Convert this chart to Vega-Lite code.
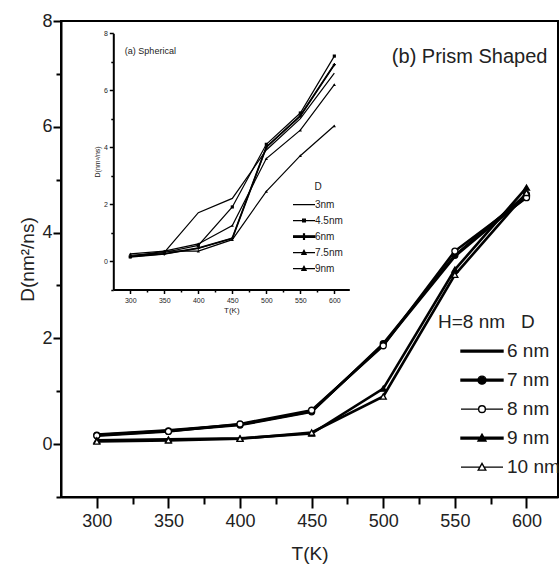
{
  "$schema": "https://vega.github.io/schema/vega-lite/v6.json",
  "autosize": "none",
  "width": 497,
  "height": 476,
  "padding": {"left": 61, "top": 21, "right": 2, "bottom": 71},
  "background": "white",
  "config": {
    "view": {"stroke": "black", "strokeWidth": 2},
    "font": "Liberation Sans, Arial, sans-serif",
    "axis": {"grid": false, "domainColor": "black", "tickColor": "black", "labelColor": "#222", "titleColor": "#222", "titleFontWeight": "normal"}
  },
  "datasets": {
    "main": [
      {"T": 300, "D": 0.18, "size": "6 nm"}, {"T": 350, "D": 0.26, "size": "6 nm"}, {"T": 400, "D": 0.37, "size": "6 nm"}, {"T": 450, "D": 0.62, "size": "6 nm"}, {"T": 500, "D": 1.88, "size": "6 nm"}, {"T": 550, "D": 3.55, "size": "6 nm"}, {"T": 600, "D": 4.68, "size": "6 nm"},
      {"T": 300, "D": 0.17, "size": "7 nm"}, {"T": 350, "D": 0.25, "size": "7 nm"}, {"T": 400, "D": 0.36, "size": "7 nm"}, {"T": 450, "D": 0.61, "size": "7 nm"}, {"T": 500, "D": 1.9, "size": "7 nm"}, {"T": 550, "D": 3.57, "size": "7 nm"}, {"T": 600, "D": 4.72, "size": "7 nm"},
      {"T": 300, "D": 0.16, "size": "8 nm"}, {"T": 350, "D": 0.24, "size": "8 nm"}, {"T": 400, "D": 0.38, "size": "8 nm"}, {"T": 450, "D": 0.64, "size": "8 nm"}, {"T": 500, "D": 1.86, "size": "8 nm"}, {"T": 550, "D": 3.65, "size": "8 nm"}, {"T": 600, "D": 4.66, "size": "8 nm"},
      {"T": 300, "D": 0.07, "size": "9 nm"}, {"T": 350, "D": 0.09, "size": "9 nm"}, {"T": 400, "D": 0.11, "size": "9 nm"}, {"T": 450, "D": 0.2, "size": "9 nm"}, {"T": 500, "D": 1.05, "size": "9 nm"}, {"T": 550, "D": 3.3, "size": "9 nm"}, {"T": 600, "D": 4.85, "size": "9 nm"},
      {"T": 300, "D": 0.05, "size": "10 nm"}, {"T": 350, "D": 0.07, "size": "10 nm"}, {"T": 400, "D": 0.1, "size": "10 nm"}, {"T": 450, "D": 0.22, "size": "10 nm"}, {"T": 500, "D": 0.9, "size": "10 nm"}, {"T": 550, "D": 3.2, "size": "10 nm"}, {"T": 600, "D": 4.75, "size": "10 nm"}
    ],
    "inset": [
      {"T": 300, "D": 0.2, "size": "3nm"}, {"T": 350, "D": 0.3, "size": "3nm"}, {"T": 400, "D": 1.7, "size": "3nm"}, {"T": 450, "D": 2.2, "size": "3nm"}, {"T": 500, "D": 3.9, "size": "3nm"}, {"T": 550, "D": 5.0, "size": "3nm"}, {"T": 600, "D": 6.6, "size": "3nm"},
      {"T": 300, "D": 0.15, "size": "4.5nm"}, {"T": 350, "D": 0.3, "size": "4.5nm"}, {"T": 400, "D": 0.55, "size": "4.5nm"}, {"T": 450, "D": 1.9, "size": "4.5nm"}, {"T": 500, "D": 4.1, "size": "4.5nm"}, {"T": 550, "D": 5.2, "size": "4.5nm"}, {"T": 600, "D": 7.2, "size": "4.5nm"},
      {"T": 300, "D": 0.15, "size": "6nm"}, {"T": 350, "D": 0.25, "size": "6nm"}, {"T": 400, "D": 0.45, "size": "6nm"}, {"T": 450, "D": 0.8, "size": "6nm"}, {"T": 500, "D": 4.0, "size": "6nm"}, {"T": 550, "D": 5.1, "size": "6nm"}, {"T": 600, "D": 6.9, "size": "6nm"},
      {"T": 300, "D": 0.25, "size": "7.5nm"}, {"T": 350, "D": 0.35, "size": "7.5nm"}, {"T": 400, "D": 0.6, "size": "7.5nm"}, {"T": 450, "D": 1.25, "size": "7.5nm"}, {"T": 500, "D": 3.6, "size": "7.5nm"}, {"T": 550, "D": 4.6, "size": "7.5nm"}, {"T": 600, "D": 6.2, "size": "7.5nm"},
      {"T": 300, "D": 0.15, "size": "9nm"}, {"T": 350, "D": 0.35, "size": "9nm"}, {"T": 400, "D": 0.35, "size": "9nm"}, {"T": 450, "D": 0.75, "size": "9nm"}, {"T": 500, "D": 2.45, "size": "9nm"}, {"T": 550, "D": 3.7, "size": "9nm"}, {"T": 600, "D": 4.75, "size": "9nm"}
    ],
    "mainNote": [{"T": 506, "D": 7.31, "label": "(b)  Prism Shaped"}],
    "insetNote": [{"T": 292, "D": 7.38, "label": "(a) Spherical"}]
  },
  "layer": [
    {
      "layer": [
        {
          "data": {"name": "main"},
          "mark": {"type": "line", "strokeWidth": 2.6},
          "encoding": {
            "x": {"field": "T", "type": "quantitative", "scale": {"domain": [275, 622], "nice": false, "zero": false},
              "axis": {"orient": "bottom", "values": [300,325,350,375,400,425,450,475,500,525,550,575,600], "labelExpr": "datum.value % 50 === 0 ? datum.label : ''", "tickSize": {"condition": {"test": "datum.value % 50 === 0", "value": 11}, "value": 7}, "tickWidth": 2, "domainWidth": 2, "labelFontSize": 18, "labelPadding": 4, "labelFlush": false, "labelOverlap": false, "title": "T(K)", "titleFontSize": 19, "titlePadding": 14}},
            "y": {"field": "D", "type": "quantitative", "scale": {"domain": [-1, 8], "nice": false, "zero": false},
              "axis": {"orient": "left", "values": [-1,0,1,2,3,4,5,6,7,8], "labelExpr": "datum.value % 2 === 0 ? datum.label : ''", "tickSize": {"condition": {"test": "datum.value % 2 === 0", "value": 8}, "value": 5}, "tickWidth": 2, "domainWidth": 2, "labelFontSize": 18, "labelPadding": 1, "labelFlush": false, "labelOverlap": false, "title": "D(nm²/ns)", "titleFontSize": 19, "titlePadding": 4}},
            "color": {"field": "size", "type": "nominal", "scale": {"domain": ["6 nm", "7 nm", "8 nm", "9 nm", "10 nm"], "range": ["black", "black", "black", "black", "black"]},
              "legend": {"orient": "none", "legendX": 377, "legendY": 292, "title": "H=8 nm\u00a0\u00a0\u00a0D", "titleFontSize": 19, "titleFontWeight": "normal", "titleColor": "#222", "titlePadding": 5, "labelFontSize": 19, "labelColor": "#222", "padding": 0, "rowPadding": 0, "clipHeight": 28.3, "symbolSize": 1764, "symbolStrokeWidth": 1.4, "symbolOffset": 22, "labelOffset": 3,
                "encode": {"symbols": {"update": {
                  "shape": {"signal": "datum.value === '6 nm' ? 'M-1,-0.045H1V0.045H-1Z' : datum.value === '7 nm' ? 'M-1,-0.045H1V0.045H-1ZM0.19,0A0.19,0.19 0 1 1 -0.19,0A0.19,0.19 0 1 1 0.19,0Z' : datum.value === '8 nm' ? 'M-1,0H-0.16M0.16,0H1M0.16,0A0.16,0.16 0 1 1 -0.16,0A0.16,0.16 0 1 1 0.16,0Z' : datum.value === '9 nm' ? 'M-1,-0.045H1V0.045H-1ZM-0.19,0.14L0,-0.19L0.19,0.14Z' : 'M-1,0H-0.12M0.12,0H1M-0.18,0.14L0,-0.18L0.18,0.14Z'"},
                  "fill": {"signal": "(datum.value === '8 nm' || datum.value === '10 nm') ? 'white' : 'black'"},
                  "stroke": {"value": "black"},
                  "opacity": {"value": 1}
                }}}}}
          }
        },
        {
          "data": {"name": "main"},
          "transform": [{"filter": "datum.size !== '6 nm'"}],
          "mark": {"type": "point", "filled": false, "stroke": "black", "strokeWidth": 1.3, "opacity": 1, "size": 36},
          "encoding": {
            "x": {"field": "T", "type": "quantitative"},
            "y": {"field": "D", "type": "quantitative"},
            "shape": {"field": "size", "type": "nominal", "scale": {"domain": ["7 nm", "8 nm", "9 nm", "10 nm"], "range": ["circle", "circle", "triangle-up", "triangle-up"]}, "legend": null},
            "fill": {"field": "size", "type": "nominal", "scale": {"domain": ["7 nm", "8 nm", "9 nm", "10 nm"], "range": ["black", "white", "black", "white"]}, "legend": null}
          }
        },
        {
          "data": {"name": "mainNote"},
          "mark": {"type": "text", "align": "left", "baseline": "middle", "fontSize": 20, "color": "#222"},
          "encoding": {
            "x": {"field": "T", "type": "quantitative"},
            "y": {"field": "D", "type": "quantitative"},
            "text": {"field": "label"}
          }
        }
      ]
    },
    {
      "layer": [
        {
          "data": {"name": "inset"},
          "mark": {"type": "line", "strokeWidth": 1.2},
          "encoding": {
            "x": {"field": "T", "type": "quantitative", "scale": {"domain": [275, 622], "nice": false, "zero": false, "range": [52.3, 288.3]},
              "axis": {"orient": "bottom", "offset": -207.5, "values": [300,325,350,375,400,425,450,475,500,525,550,575,600], "labelExpr": "datum.value % 50 === 0 ? datum.label : ''", "tickSize": {"condition": {"test": "datum.value % 50 === 0", "value": 4}, "value": 2.5}, "tickWidth": 1.5, "domainWidth": 2, "labelFontSize": 7, "labelPadding": 3, "labelFlush": false, "labelOverlap": false, "title": "T(K)", "titleFontSize": 8, "titlePadding": 3}},
            "y": {"field": "D", "type": "quantitative", "scale": {"domain": [-1, 8], "nice": false, "zero": false, "range": [268.5, 12.3]},
              "axis": {"orient": "left", "offset": -52.3, "values": [-1,0,1,2,3,4,5,6,7,8], "labelExpr": "datum.value % 2 === 0 ? datum.label : ''", "tickSize": {"condition": {"test": "datum.value % 2 === 0", "value": 4}, "value": 2.5}, "tickWidth": 1.5, "domainWidth": 2, "labelFontSize": 7, "labelPadding": 2, "labelFlush": false, "labelOverlap": false, "title": "D(nm²/ns)", "titleFontSize": 7, "titlePadding": 3}},
            "color": {"field": "size", "type": "nominal", "scale": {"domain": ["3nm", "4.5nm", "6nm", "7.5nm", "9nm"], "range": ["black", "black", "black", "black", "black"]},
              "legend": {"orient": "none", "legendX": 232, "legendY": 161, "title": "D", "titleAnchor": "middle", "titleFontSize": 10, "titleFontWeight": "normal", "titleColor": "#222", "titlePadding": 5, "labelFontSize": 10, "labelColor": "#222", "padding": 0, "rowPadding": 0, "clipHeight": 15.2, "symbolSize": 484, "symbolStrokeWidth": 1.1, "symbolOffset": -1, "labelOffset": -1,
                "encode": {"symbols": {"update": {
                  "shape": {"signal": "datum.value === '3nm' ? 'M-1,0H1' : datum.value === '4.5nm' ? 'M-1,0H1M-0.13,-0.13H0.13V0.13H-0.13Z' : datum.value === '6nm' ? 'M-1,-0.08H1V0.08H-1ZM-0.05,-0.25H0.05V0.25H-0.05Z' : 'M-1,0H1M-0.2,0.16L0,-0.22L0.2,0.16Z'"},
                  "fill": {"value": "black"},
                  "stroke": {"value": "black"},
                  "opacity": {"value": 1}
                }}}}}
          }
        },
        {
          "data": {"name": "inset"},
          "transform": [{"filter": "datum.size !== '3nm'"}],
          "mark": {"type": "point", "filled": true, "color": "black", "opacity": 1, "size": 10},
          "encoding": {
            "x": {"field": "T", "type": "quantitative"},
            "y": {"field": "D", "type": "quantitative"},
            "shape": {"field": "size", "type": "nominal", "scale": {"domain": ["4.5nm", "6nm", "7.5nm", "9nm"], "range": ["square", "cross", "triangle-up", "triangle-up"]}, "legend": null}
          }
        },
        {
          "data": {"name": "inset"},
          "transform": [{"filter": "datum.size === '6nm'"}],
          "mark": {"type": "line", "strokeWidth": 1.8, "color": "black"},
          "encoding": {
            "x": {"field": "T", "type": "quantitative"},
            "y": {"field": "D", "type": "quantitative"}
          }
        },
        {
          "mark": {"type": "rect", "fill": null, "fillOpacity": 0, "stroke": "black", "strokeWidth": 2},
          "encoding": {
            "x": {"datum": 275, "type": "quantitative"},
            "x2": {"datum": 622},
            "y": {"datum": -1, "type": "quantitative"},
            "y2": {"datum": 8}
          }
        },
        {
          "data": {"name": "insetNote"},
          "mark": {"type": "text", "align": "left", "baseline": "middle", "fontSize": 9, "color": "#222"},
          "encoding": {
            "x": {"field": "T", "type": "quantitative"},
            "y": {"field": "D", "type": "quantitative"},
            "text": {"field": "label"}
          }
        }
      ]
    }
  ],
  "resolve": {"scale": {"x": "independent", "y": "independent", "color": "independent", "shape": "independent", "fill": "independent"}}
}
